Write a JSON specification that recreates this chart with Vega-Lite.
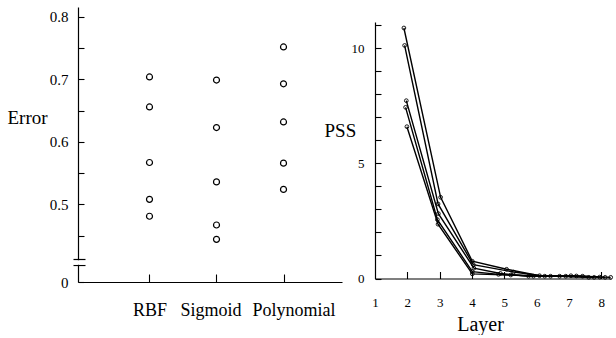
{
  "$schema": "https://vega.github.io/schema/vega-lite/v6.json",
  "background": "white",
  "padding": {"left": 7, "top": 7, "right": 0, "bottom": 0},
  "bounds": "flush",
  "spacing": 33,
  "config": {
    "view": {"stroke": null},
    "font": "Liberation Serif",
    "axis": {
      "grid": false,
      "domainColor": "black",
      "domainWidth": 1.2,
      "tickColor": "black",
      "tickWidth": 1.1,
      "labelColor": "black",
      "titleColor": "black",
      "titleFontWeight": "normal",
      "labelFont": "Liberation Serif",
      "titleFont": "Liberation Serif"
    }
  },
  "datasets": {
    "err": [
      {"kernel": "RBF", "error": 0.704},
      {"kernel": "RBF", "error": 0.656},
      {"kernel": "RBF", "error": 0.567},
      {"kernel": "RBF", "error": 0.508},
      {"kernel": "RBF", "error": 0.481},
      {"kernel": "Sigmoid", "error": 0.699},
      {"kernel": "Sigmoid", "error": 0.623},
      {"kernel": "Sigmoid", "error": 0.536},
      {"kernel": "Sigmoid", "error": 0.467},
      {"kernel": "Sigmoid", "error": 0.444},
      {"kernel": "Polynomial", "error": 0.752},
      {"kernel": "Polynomial", "error": 0.693},
      {"kernel": "Polynomial", "error": 0.632},
      {"kernel": "Polynomial", "error": 0.566},
      {"kernel": "Polynomial", "error": 0.524}
    ],
    "pss": [
      {"s": "A", "layer": 1.894, "pss": 10.89},
      {"s": "A", "layer": 3.03, "pss": 3.53},
      {"s": "A", "layer": 4.01, "pss": 0.75},
      {"s": "A", "layer": 5.07, "pss": 0.4},
      {"s": "A", "layer": 6.09, "pss": 0.12},
      {"s": "A", "layer": 7.06, "pss": 0.12},
      {"s": "A", "layer": 7.95, "pss": 0.06},
      {"s": "B", "layer": 1.916, "pss": 10.13},
      {"s": "B", "layer": 2.95, "pss": 3.24},
      {"s": "B", "layer": 4.04, "pss": 0.6},
      {"s": "B", "layer": 5.29, "pss": 0.28},
      {"s": "B", "layer": 6.25, "pss": 0.1},
      {"s": "B", "layer": 7.23, "pss": 0.11},
      {"s": "B", "layer": 8.12, "pss": 0.05},
      {"s": "C", "layer": 1.968, "pss": 7.73},
      {"s": "C", "layer": 2.96, "pss": 2.82},
      {"s": "C", "layer": 4.06, "pss": 0.45},
      {"s": "C", "layer": 4.88, "pss": 0.22},
      {"s": "C", "layer": 5.75, "pss": 0.1},
      {"s": "C", "layer": 6.71, "pss": 0.1},
      {"s": "C", "layer": 7.61, "pss": 0.05},
      {"s": "D", "layer": 1.946, "pss": 7.44},
      {"s": "D", "layer": 2.93, "pss": 2.56},
      {"s": "D", "layer": 4.01, "pss": 0.3},
      {"s": "D", "layer": 4.82, "pss": 0.18},
      {"s": "D", "layer": 5.9, "pss": 0.1},
      {"s": "D", "layer": 6.9, "pss": 0.1},
      {"s": "D", "layer": 7.78, "pss": 0.05},
      {"s": "E", "layer": 1.987, "pss": 6.6},
      {"s": "E", "layer": 2.95, "pss": 2.36},
      {"s": "E", "layer": 4.01, "pss": 0.2},
      {"s": "E", "layer": 5.2, "pss": 0.15},
      {"s": "E", "layer": 6.43, "pss": 0.1},
      {"s": "E", "layer": 7.42, "pss": 0.1},
      {"s": "E", "layer": 8.29, "pss": 0.05}
    ]
  },
  "hconcat": [
    {
      "width": 264,
      "height": 275,
      "data": {"name": "err"},
      "layer": [
        {
          "mark": {"type": "point", "shape": "circle", "filled": false, "size": 36, "stroke": "black", "strokeWidth": 1.2, "opacity": 1},
          "encoding": {
            "x": {
              "field": "kernel", "type": "nominal",
              "sort": ["RBF", "Sigmoid", "Polynomial"],
              "scale": {"type": "point", "padding": 0.97, "align": 0.55},
              "axis": {
                "title": null, "tickSize": -8, "labelPadding": 36, "labelBaseline": "middle",
                "labelFont": "Liberation Serif", "labelFontSize": 18, "labelAngle": 0, "labelOverlap": false,
                "labelOffset": {"condition": [
                  {"test": "datum.value == 'Sigmoid'", "value": -6},
                  {"test": "datum.value == 'Polynomial'", "value": 10}
                ], "value": 0}
              }
            },
            "y": {
              "field": "error", "type": "quantitative",
              "scale": {"domain": [0.3757, 0.816], "nice": false, "zero": false},
              "axis": {
                "orient": "left",
                "values": [0.3757, 0.45, 0.5, 0.55, 0.6, 0.65, 0.7, 0.75, 0.8],
                "labelExpr": "datum.value < 0.4 ? '0' : (abs(datum.value*10 - round(datum.value*10)) < 0.001 ? format(datum.value, '.1f') : '')",
                "tickSize": -6,
                "labelPadding": 16,
                "labelFont": "Liberation Serif",
                "labelFontSize": 15,
                "title": "Error",
                "titleAngle": 0,
                "titleFontSize": 19,
                "titleX": -71,
                "titleY": 110,
                "titleAlign": "left",
                "titleBaseline": "middle"
              }
            }
          }
        },
        {
          "mark": {"type": "point", "opacity": 0},
          "encoding": {
            "y": {
              "field": "error", "type": "quantitative",
              "scale": {"domain": [0.3757, 0.816], "nice": false, "zero": false},
              "axis": {
                "orient": "left",
                "values": [0.403, 0.4078, 0.4126],
                "labels": false,
                "domain": false,
                "title": null,
                "offset": -7,
                "tickSize": 12,
                "zindex": 1,
                "tickColor": {"condition": {"test": "abs(datum.value - 0.4078) < 0.001", "value": "white"}, "value": "black"},
                "tickWidth": {"condition": {"test": "abs(datum.value - 0.4078) < 0.001", "value": 4.5}, "value": 1.2}
              }
            }
          }
        }
      ],
      "resolve": {"scale": {"y": "independent"}, "axis": {"y": "independent"}}
    },
    {
      "width": 236,
      "height": 275,
      "data": {"name": "pss"},
      "encoding": {
        "x": {
          "field": "layer", "type": "quantitative",
          "scale": {"domain": [1, 8.3], "nice": false, "zero": false},
          "axis": {
            "values": [1, 2, 3, 4, 5, 6, 7, 8],
            "format": "d",
            "tickSize": -7,
            "tickOpacity": {"condition": {"test": "datum.value == 1 || datum.value == 6 || datum.value == 7", "value": 0}, "value": 1},
            "labelPadding": 31,
            "labelBaseline": "middle",
            "labelFont": "Liberation Serif",
            "labelFontSize": 13,
            "labelFlush": false,
            "offset": -3.5,
            "title": "Layer",
            "titleFontSize": 20,
            "titleX": 105,
            "titleY": 52,
            "titleAlign": "center",
            "titleBaseline": "alphabetic"
          }
        },
        "y": {
          "field": "pss", "type": "quantitative",
          "scale": {"domain": [0, 11.15], "nice": false, "zero": false, "range": [271.5, 15]},
          "axis": {
            "values": [0, 1, 2, 3, 4, 5, 6, 7, 8, 9, 10, 11],
            "labelExpr": "datum.value % 5 == 0 ? datum.label : ''",
            "tickSize": -6,
            "labelPadding": 17,
            "labelFont": "Liberation Serif",
            "labelFontSize": 13,
            "labelFlush": false,
            "title": "PSS",
            "titleAngle": 0,
            "titleFontSize": 19,
            "titleX": -51,
            "titleY": 123,
            "titleAlign": "left",
            "titleBaseline": "middle"
          }
        }
      },
      "layer": [
        {
          "mark": {"type": "line", "color": "black", "strokeWidth": 1.4},
          "encoding": {"detail": {"field": "s"}, "order": {"field": "layer", "type": "quantitative"}}
        },
        {
          "mark": {"type": "point", "shape": "circle", "filled": false, "size": 14, "stroke": "black", "strokeWidth": 0.9, "opacity": 1}
        }
      ]
    }
  ]
}
